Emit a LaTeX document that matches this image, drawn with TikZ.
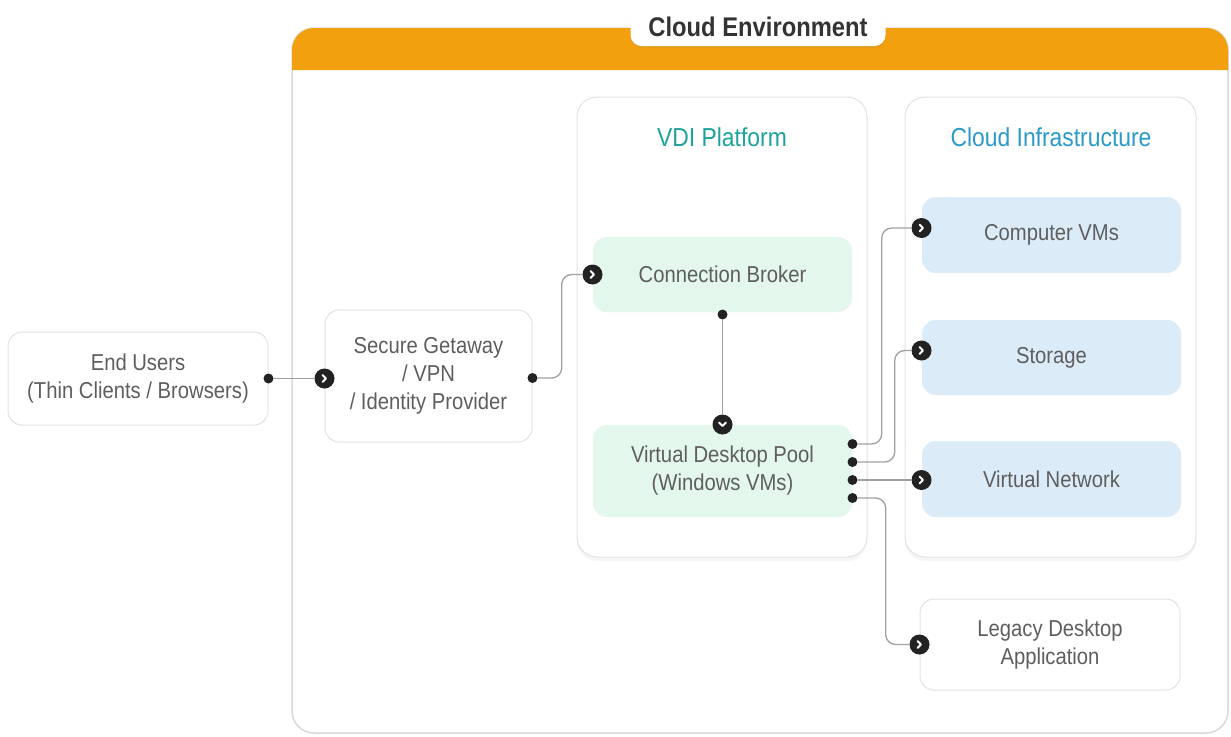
\documentclass[tikz,border=0pt]{standalone}
\usepackage{fontspec}
\setmainfont{Liberation Sans}[FakeStretch=0.88]
\usetikzlibrary{shadows,calc}
\definecolor{orangehd}{HTML}{F3A00E}
\definecolor{txtgray}{HTML}{5E5E5E}
\definecolor{darktxt}{HTML}{333333}
\definecolor{bordergray}{HTML}{E2E2E2}
\definecolor{outerborder}{HTML}{D9D9D9}
\definecolor{greenfill}{HTML}{E3F7EC}
\definecolor{bluefill}{HTML}{DCEBF8}
\definecolor{vditeal}{HTML}{1BA39C}
\definecolor{infrablue}{HTML}{2A9BC8}
\definecolor{linegray}{HTML}{A0A0A0}
\definecolor{dotblack}{HTML}{222222}
\tikzset{
  bodyfont/.style={font=\fontsize{23}{28}\selectfont},
  box/.style={draw=bordergray, line width=1pt, rounded corners=14pt, fill=white,
    align=center, text=txtgray, inner sep=0pt, bodyfont},
  greenbox/.style={box, draw=none, fill=greenfill},
  bluebox/.style={box, draw=none, fill=bluefill},
  panel/.style={draw=bordergray, line width=1pt, rounded corners=20pt, fill=white,
    drop shadow={opacity=0.07, shadow xshift=0pt, shadow yshift=-4pt}},
  paneltitle/.style={font=\fontsize{26}{30}\selectfont},
  conn/.style={draw=linegray, line width=1.3pt, rounded corners=10pt},
  dotnode/.style={circle, fill=dotblack, minimum size=10pt, inner sep=0pt},
  arrR/.style={circle, fill=dotblack, minimum size=20pt, inner sep=0pt,
    path picture={\draw[white, line width=1.8pt, line cap=round, line join=round]
      ($(path picture bounding box.center)+(-2,-3.5)$) -- ++(3.5,3.5) -- ++(-3.5,3.5);}},
  arrD/.style={circle, fill=dotblack, minimum size=20pt, inner sep=0pt,
    path picture={\draw[white, line width=1.8pt, line cap=round, line join=round]
      ($(path picture bounding box.center)+(-3.5,-2)$) -- ++(3.5,3.5) -- ++(3.5,-3.5);}},
}
\begin{document}
\begin{tikzpicture}[x=1pt,y=-1pt]
\useasboundingbox (0,0) rectangle (1231,736);
% outer cloud environment
\node[draw=outerborder, line width=1.5pt, fill=white, rounded corners=22pt,
  minimum width=936pt, minimum height=705pt, inner sep=0pt] (cloud) at (760,380.5) {};
\fill[orangehd] (292,70) [rounded corners=22pt] -- (292,28) -- (1228,28) [sharp corners] -- (1228,70) -- cycle;
\node[fill=white, rounded corners=11pt, minimum width=255pt, minimum height=38pt, inner sep=0pt,
  drop shadow={opacity=0.12, shadow xshift=0pt, shadow yshift=-2pt},
  text=darktxt, font=\fontsize{27}{30}\selectfont\bfseries] (cloudtitle) at (758,27) {Cloud Environment};
% panels
\node[panel, minimum width=290pt, minimum height=460pt, inner sep=0pt] (vdi) at (722,327) {};
\node[panel, minimum width=291pt, minimum height=460pt, inner sep=0pt] (infra) at (1050.5,327) {};
\node[paneltitle, text=vditeal] (vditl) at (722,137) {VDI Platform};
\node[paneltitle, text=infrablue] (infratl) at (1051,137) {Cloud Infrastructure};
% boxes
\node[box, minimum width=260pt, minimum height=93pt] (eu) at (138,378.5) {End Users\\(Thin Clients / Browsers)};
\node[box, minimum width=207pt, minimum height=132pt] (sg) at (428.5,376) {Secure Getaway\\/ VPN\\/ Identity Provider};
\node[greenbox, minimum width=259pt, minimum height=75pt] (cb) at (722.5,274.5) {Connection Broker};
\node[greenbox, minimum width=259pt, minimum height=92pt] (vdp) at (722.5,471) {Virtual Desktop Pool\\(Windows VMs)};
\node[bluebox, minimum width=259pt, minimum height=76pt] (cvm) at (1051.5,235) {Computer VMs};
\node[bluebox, minimum width=259pt, minimum height=75pt] (sto) at (1051.5,357.5) {Storage};
\node[bluebox, minimum width=259pt, minimum height=76pt] (vn) at (1051.5,479) {Virtual Network};
\node[box, minimum width=260pt, minimum height=91pt] (leg) at (1050,644.5) {Legacy Desktop\\Application};
% dots and arrow heads
\node[dotnode] (deu) at (eu.east) {};
\node[arrR] (asg) at (sg.west |- eu.east) {};
\node[dotnode] (dsg) at ([yshift=-2pt]sg.east) {};
\node[arrR] (acb) at (cb.west) {};
\node[dotnode] (dcb) at ([yshift=-2pt]cb.south) {};
\node[arrD] (avdp) at (vdp.north) {};
\node[dotnode] (d1) at ([yshift=27pt]vdp.east) {};
\node[dotnode] (d2) at ([yshift=9pt]vdp.east) {};
\node[dotnode] (d3) at ([yshift=-9pt]vdp.east) {};
\node[dotnode] (d4) at ([yshift=-27pt]vdp.east) {};
\node[arrR] (a1) at ([yshift=7pt]cvm.west) {};
\node[arrR] (a2) at ([yshift=7pt]sto.west) {};
\node[arrR] (a3) at (vn.west |- d3) {};
\node[arrR] (a4) at (leg.west) {};
% connectors
\draw[conn] (deu.east) -- (asg.west);
\draw[conn] (dsg.east) -- ++(24,0) |- (acb.west);
\draw[conn] (d1.east) -- ++(24,0) |- (a1.west);
\draw[conn] (d2.east) -- ++(37,0) |- (a2.west);
\draw[conn] (d3.east) -- (a3.west);
\draw[conn] (d4.east) -- ++(28,0) |- (a4.west);
\draw[conn] (dcb.south) -- (avdp.north);
\end{tikzpicture}
\end{document}
